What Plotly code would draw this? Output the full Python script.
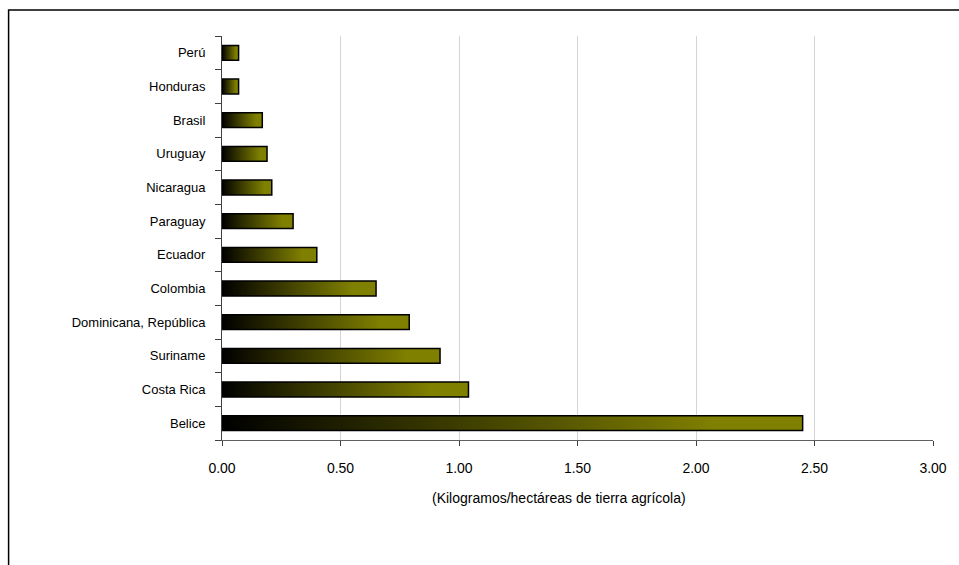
import plotly.graph_objects as go

countries = ["Belice", "Costa Rica", "Suriname", "Dominicana, República", "Colombia",
             "Ecuador", "Paraguay", "Nicaragua", "Uruguay", "Brasil", "Honduras", "Perú"]
values = [2.45, 1.04, 0.92, 0.79, 0.65, 0.40, 0.30, 0.21, 0.19, 0.17, 0.07, 0.07]
x_ticks = [0, 0.5, 1.0, 1.5, 2.0, 2.5, 3.0]
x_ticktext = ["0.00", "0.50", "1.00", "1.50", "2.00", "2.50", "3.00"]
x_title = "(Kilogramos/hectáreas de tierra agrícola)"

FONT = "Liberation Sans, Arial, sans-serif"
half = 0.22
gradient = [[0, "#000000"], [0.85, "#808000"], [1, "#808000"]]

fig = go.Figure()
pos = list(range(len(countries)))
for i, v in zip(pos, values):
    fig.add_trace(go.Scatter(
        x=[0, v, v, 0, 0], y=[i - half, i - half, i + half, i + half, i - half],
        mode="lines", fill="toself", line=dict(color="#000000", width=1.5),
        fillgradient=dict(type="horizontal", colorscale=gradient, start=0, stop=v),
        hoverinfo="skip", showlegend=False))

fig.update_layout(
    width=959, height=565,
    margin=dict(l=222, r=24, t=36, b=125),
    paper_bgcolor="white", plot_bgcolor="white",
    font=dict(family=FONT, size=13, color="#000000"),
    showlegend=False,
    xaxis=dict(range=[0, 3.0], tickvals=x_ticks, ticktext=x_ticktext,
               showgrid=True, gridcolor="#d4d4d4", gridwidth=1,
               showline=True, linecolor="#606060", linewidth=1,
               ticks="outside", ticklen=5, tickcolor="#404040",
               tickfont=dict(size=14), ticklabelstandoff=10, zeroline=False),
    yaxis=dict(range=[-0.5, len(countries) - 0.5], tickvals=pos, ticktext=countries,
               showgrid=False, zeroline=False,
               showline=True, linecolor="#404040", linewidth=1,
               ticks="", ticklabelstandoff=13, tickfont=dict(size=13),
               minor=dict(ticks="outside", ticklen=6, tick0=-0.5, dtick=1,
                          tickcolor="#404040", showgrid=False)),
    annotations=[dict(text=x_title, xref="paper", yref="paper",
                      x=(560 - 222) / 713, y=-(498 - 440) / 404,
                      xanchor="center", yanchor="middle", showarrow=False,
                      font=dict(family=FONT, size=14, color="#000000"))],
    shapes=[dict(type="rect", xref="paper", yref="paper",
                 x0=(8 - 222) / 713, x1=2.0,
                 y0=-0.6, y1=(440 - 10) / 404,
                 line=dict(color="#000000", width=1.5), fillcolor="rgba(0,0,0,0)",
                 layer="below")],
)

fig.write_html("out.html", config={"displayModeBar": False},
               post_script="document.body.style.margin='0';document.body.style.overflow='hidden';")
